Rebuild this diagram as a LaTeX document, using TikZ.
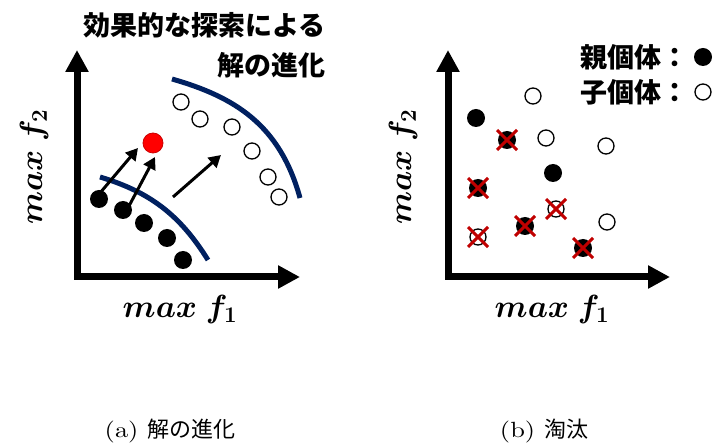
\RequirePackage{fix-cm}
\documentclass[tikz,border=0pt]{standalone}
\usepackage{bm}
\usepackage{fontspec}
\newfontfamily\jpfont{Noto Sans CJK JP}
\newfontfamily\capfont{lmroman10-regular.otf}[FakeStretch=1.2]
\usetikzlibrary{arrows.meta}
\definecolor{frontnavy}{HTML}{002060}
\definecolor{crossred}{HTML}{C00000}
\tikzset{
  axisline/.style={line width=7pt, line join=miter,
    arrows={Triangle[width=22pt,length=22pt]-Triangle[width=22pt,length=22pt]}},
  frontline/.style={frontnavy, line width=5pt},
  parentdot/.style={circle, fill=black, minimum size=18pt, inner sep=0pt},
  childdot/.style={circle, draw=black, line width=1.3pt, fill=white, minimum size=16pt, inner sep=0pt},
  bestdot/.style={circle, fill=red, draw=red!80!black, line width=0.8pt, minimum size=20pt, inner sep=0pt},
  movearrow/.style={line width=3pt, arrows={-Triangle[width=13pt,length=12pt]}},
  cullmark/.style={crossred, line width=3pt},
  axislabel/.style={font=\fontsize{32}{32}\selectfont, inner sep=0pt},
  headtext/.style={font=\jpfont\bfseries\fontsize{27}{29}\selectfont, inner sep=0pt},
  captext/.style={font=\capfont\fontsize{22}{23}\selectfont, inner sep=0pt}
}
\begin{document}
\begin{tikzpicture}[x=1pt, y=-1pt]
\useasboundingbox (0,0) rectangle (713,446);

% ---------- (a) evolution of solutions ----------
\coordinate (ay) at (77,50);
\coordinate (ao) at (77,277);
\coordinate (ax) at (300,277);
\draw[axisline] (ay) -- (ao) -- (ax);
\node[axislabel, rotate=90] (alabtwo) at (34,167) {$\bm{max\; f_2}$};
\node[axislabel] (alabone) at (180,310) {$\bm{max\; f_1}$};

\node[headtext, anchor=east] (titleone) at (326,25) {効果的な探索による};
\node[headtext, anchor=east] (titletwo) at (326,65) {解の進化};

% fronts
\coordinate (fa1) at (100,177);
\coordinate (fa2) at (208,260);
\draw[frontline] (fa1) .. controls (150,192) and (180,215) .. (fa2);
\coordinate (fb1) at (172,79);
\coordinate (fb2) at (300,198);
\draw[frontline] (fb1) .. controls (235,97) and (280,125) .. (fb2);

% current population
\node[parentdot] (p1) at (99,199) {};
\node[parentdot] (p2) at (123,210) {};
\node[parentdot] (p3) at (144,223) {};
\node[parentdot] (p4) at (167,238) {};
\node[parentdot] (p5) at (183,260) {};

% evolved population
\node[childdot] (c1) at (181,102) {};
\node[childdot] (c2) at (200,119) {};
\node[childdot] (c3) at (232,127) {};
\node[childdot] (c4) at (252,151) {};
\node[childdot] (c5) at (268,177) {};
\node[childdot] (c6) at (279,197) {};

\node[bestdot] (r) at (153,143) {};

% search moves
\coordinate (m1s) at (100,193);
\coordinate (m1e) at (138,148);
\coordinate (m2s) at (129,206);
\coordinate (m2e) at (155,157);
\coordinate (m3s) at (173,197);
\coordinate (m3e) at (221,155);
\draw[movearrow] (m1s) -- (m1e);
\draw[movearrow] (m2s) -- (m2e);
\draw[movearrow] (m3s) -- (m3e);

\node[captext] (capa) at (170,431) {(a) {\jpfont\fontsize{22}{22}\selectfont 解の進化}};

% ---------- (b) selection ----------
\coordinate (by) at (448,50);
\coordinate (bo) at (448,277);
\coordinate (bx) at (670,277);
\draw[axisline] (by) -- (bo) -- (bx);
\node[axislabel, rotate=90] (blabtwo) at (403,167) {$\bm{max\; f_2}$};
\node[axislabel] (blabone) at (552,310) {$\bm{max\; f_1}$};

% legend
\node[headtext, anchor=west] (legone) at (580,57) {親個体：};
\node[parentdot] (legp) at (703,57) {};
\node[headtext, anchor=west] (legtwo) at (580,92) {子個体：};
\node[childdot] (legc) at (703,92) {};

% parents
\node[parentdot] (q1) at (476,118) {};
\node[parentdot] (q2) at (507,140) {};
\node[parentdot] (q3) at (553,173) {};
\node[parentdot] (q4) at (478,188) {};
\node[parentdot] (q5) at (525,226) {};
\node[parentdot] (q6) at (583,248) {};

% offspring
\node[childdot] (k1) at (533,96) {};
\node[childdot] (k2) at (546,138) {};
\node[childdot] (k3) at (606,146) {};
\node[childdot] (k4) at (556,209) {};
\node[childdot] (k5) at (607,222) {};
\node[childdot] (k6) at (478,237) {};

% removed individuals
\foreach \n in {q2,q4,q5,q6,k4,k6}{
  \draw[cullmark] ([shift={(-10,-10)}]\n.center) -- ([shift={(10,10)}]\n.center);
  \draw[cullmark] ([shift={(-10,10)}]\n.center) -- ([shift={(10,-10)}]\n.center);
}

\node[captext] (capb) at (544,431) {(b) {\jpfont\fontsize{22}{22}\selectfont 淘汰}};
\end{tikzpicture}
\end{document}
